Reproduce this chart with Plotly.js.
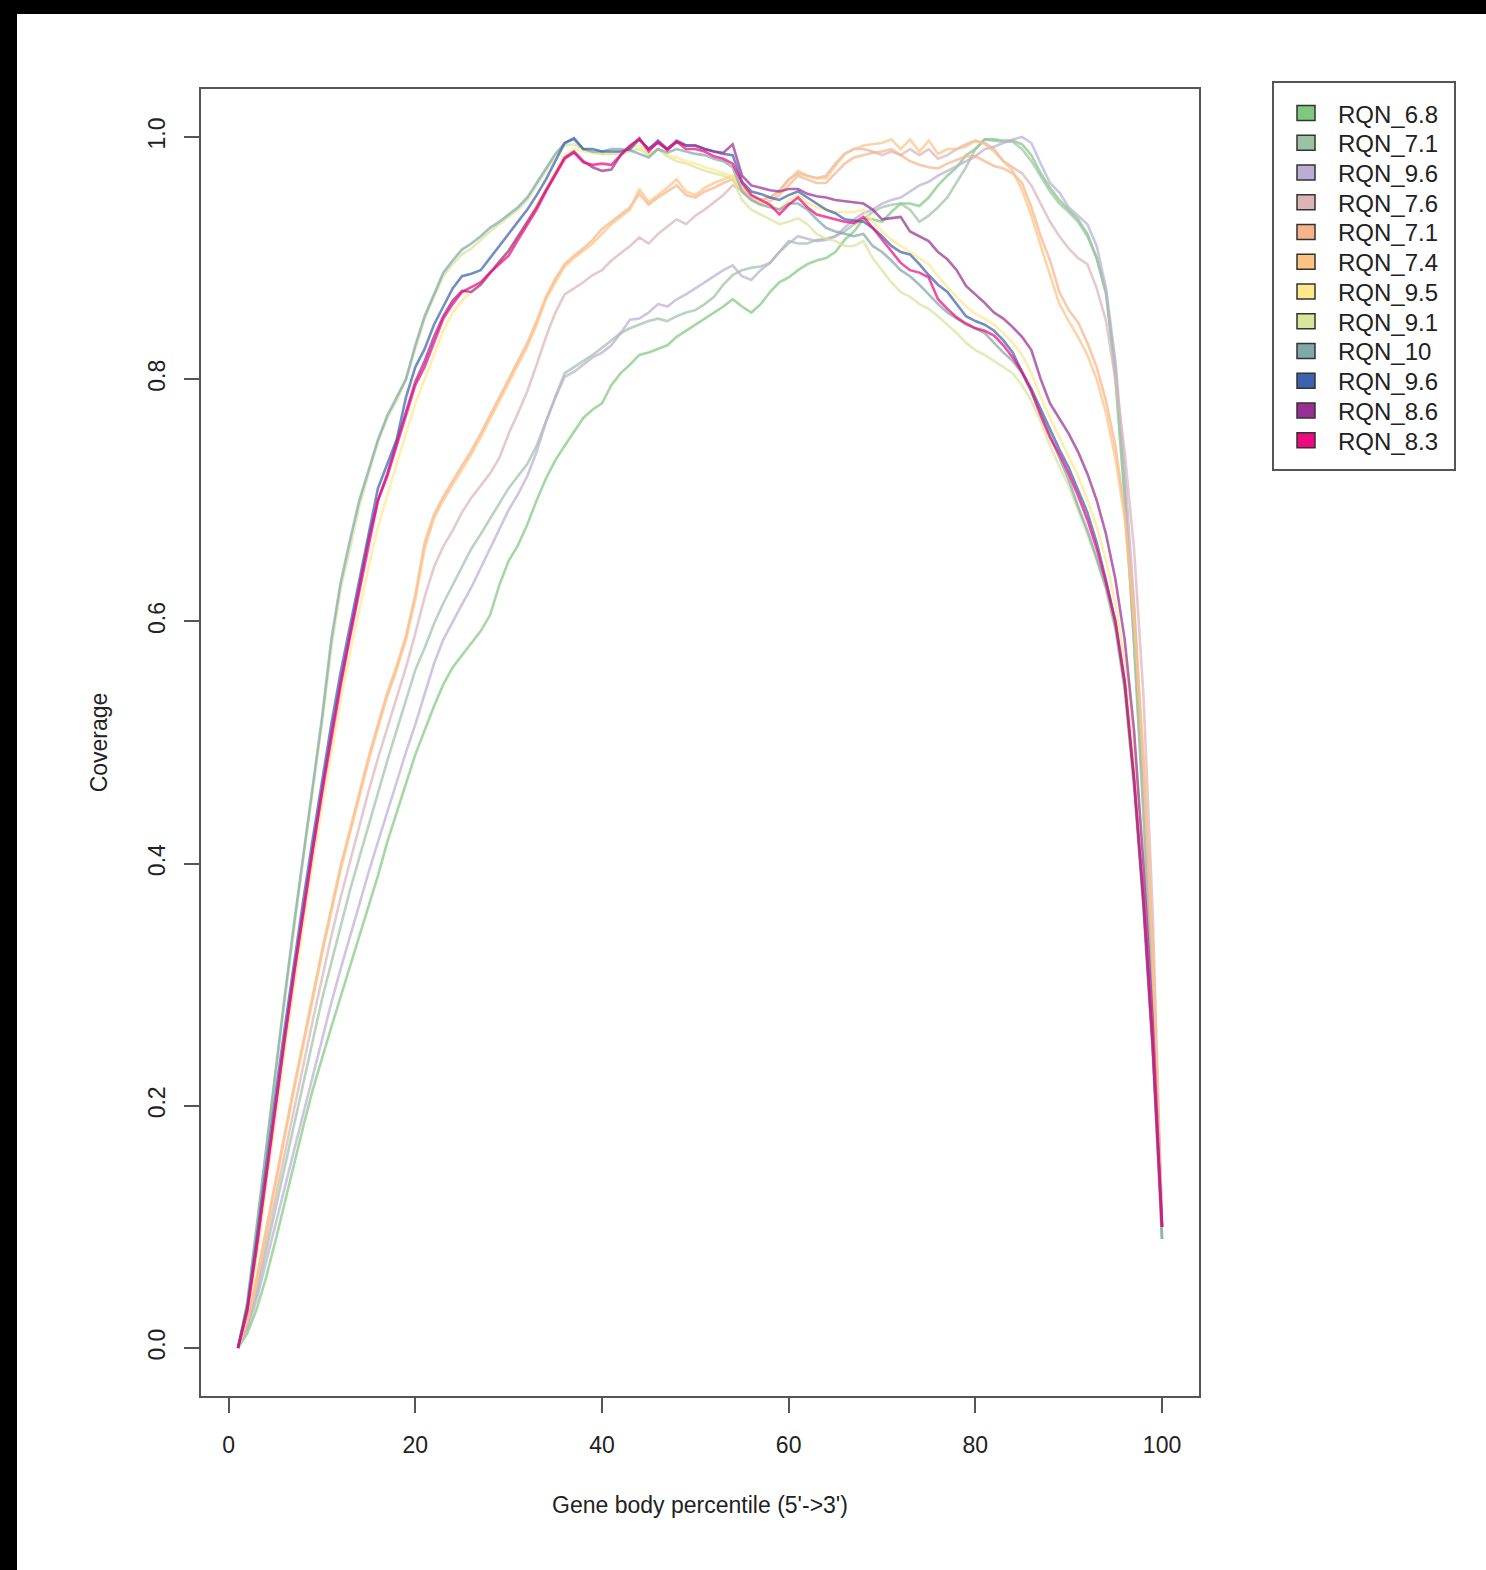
<!DOCTYPE html>
<html>
<head>
<meta charset="utf-8">
<script src="https://cdn.plot.ly/plotly-3.0.1.min.js"></script>
<style>
  html, body { margin: 0; padding: 0; background: #000; }
  #wrap { position: absolute; left: 0; top: 0; width: 1486px; height: 1570px; background: #000; }
  #chart { position: absolute; left: 17px; top: 14px; width: 1469px; height: 1556px; background: #fff; }
</style>
</head>
<body>
<div id="wrap"><div id="chart"></div></div>
<script>
// ---- data ----
const percentile = [1,2,3,4,5,6,7,8,9,10,11,12,13,14,15,16,17,18,19,20,21,22,23,24,25,26,27,28,29,30,31,32,33,34,35,36,37,38,39,40,41,42,43,44,45,46,47,48,49,50,51,52,53,54,55,56,57,58,59,60,61,62,63,64,65,66,67,68,69,70,71,72,73,74,75,76,77,78,79,80,81,82,83,84,85,86,87,88,89,90,91,92,93,94,95,96,97,98,99,100];

const sampleNames = ["RQN_6.8","RQN_7.1","RQN_9.6","RQN_7.6","RQN_7.1","RQN_7.4","RQN_9.5","RQN_9.1","RQN_10","RQN_9.6","RQN_8.6","RQN_8.3"];
const sampleColors = ["#7fc97f","#9cc2a5","#bcadd6","#dbb4b8","#f7b48a","#fcc383","#fde98c","#d8e59c","#7fa8a8","#3d62ae","#982f92","#ee0a7e"];

const rqn_6_8 = [0,0.012,0.032,0.058,0.088,0.12,0.152,0.183,0.213,0.24,
 0.265,0.29,0.315,0.34,0.365,0.39,0.418,0.442,0.465,0.49,
 0.51,0.53,0.548,0.562,0.572,0.582,0.592,0.605,0.63,0.65,
 0.663,0.68,0.70,0.718,0.733,0.745,0.756,0.768,0.775,0.78,
 0.795,0.805,0.812,0.82,0.822,0.825,0.828,0.835,0.84,0.845,
 0.85,0.855,0.86,0.866,0.86,0.855,0.862,0.872,0.88,0.884,
 0.89,0.895,0.898,0.9,0.905,0.915,0.922,0.932,0.932,0.93,
 0.938,0.945,0.945,0.943,0.95,0.96,0.968,0.975,0.985,0.99,
 0.998,0.998,0.997,0.997,0.994,0.985,0.97,0.958,0.948,0.94,
 0.932,0.92,0.9,0.872,0.80,0.70,0.585,0.45,0.29,0.09];

const rqn_7_1a = [0,0.018,0.045,0.08,0.115,0.15,0.185,0.22,0.255,0.288,
 0.318,0.348,0.378,0.405,0.432,0.46,0.485,0.51,0.535,0.56,
 0.578,0.598,0.615,0.63,0.645,0.66,0.672,0.685,0.698,0.71,
 0.72,0.73,0.745,0.765,0.785,0.805,0.81,0.815,0.82,0.826,
 0.832,0.838,0.842,0.845,0.848,0.85,0.848,0.852,0.855,0.857,
 0.862,0.868,0.878,0.886,0.89,0.892,0.893,0.896,0.905,0.914,
 0.912,0.912,0.915,0.916,0.918,0.922,0.928,0.932,0.938,0.942,
 0.944,0.945,0.94,0.93,0.935,0.942,0.95,0.962,0.975,0.99,
 0.998,0.997,0.996,0.996,0.99,0.98,0.968,0.955,0.945,0.938,
 0.93,0.918,0.9,0.87,0.81,0.71,0.58,0.44,0.28,0.09];

const rqn_9_6a = [0,0.016,0.04,0.07,0.10,0.132,0.163,0.194,0.225,0.255,
 0.285,0.313,0.34,0.367,0.393,0.418,0.443,0.468,0.492,0.515,
 0.54,0.565,0.585,0.60,0.614,0.628,0.644,0.66,0.676,0.692,
 0.705,0.72,0.74,0.765,0.785,0.802,0.806,0.812,0.818,0.822,
 0.828,0.838,0.849,0.85,0.855,0.862,0.86,0.866,0.87,0.875,
 0.88,0.885,0.89,0.894,0.885,0.882,0.89,0.896,0.905,0.912,
 0.918,0.916,0.914,0.915,0.918,0.925,0.932,0.937,0.94,0.945,
 0.948,0.95,0.955,0.96,0.963,0.968,0.972,0.976,0.98,0.984,
 0.99,0.992,0.995,0.998,1.0,0.995,0.978,0.962,0.954,0.942,
 0.935,0.928,0.91,0.875,0.815,0.725,0.615,0.47,0.30,0.11];

const rqn_7_6 = [0,0.02,0.05,0.087,0.125,0.162,0.198,0.234,0.27,0.305,
 0.34,0.372,0.402,0.432,0.46,0.487,0.512,0.538,0.562,0.59,
 0.62,0.645,0.662,0.675,0.69,0.702,0.712,0.722,0.735,0.755,
 0.772,0.79,0.812,0.835,0.855,0.87,0.875,0.88,0.886,0.89,
 0.898,0.904,0.91,0.917,0.912,0.92,0.926,0.932,0.928,0.935,
 0.94,0.946,0.952,0.96,0.956,0.95,0.948,0.95,0.956,0.965,
 0.97,0.968,0.966,0.968,0.978,0.986,0.99,0.99,0.988,0.985,
 0.988,0.985,0.99,0.985,0.99,0.982,0.985,0.99,0.994,0.997,
 0.995,0.99,0.98,0.975,0.97,0.96,0.945,0.93,0.918,0.908,
 0.9,0.895,0.875,0.848,0.80,0.74,0.66,0.54,0.36,0.10];

const rqn_7_1b = [0,0.023,0.058,0.098,0.138,0.178,0.216,0.253,0.291,0.328,
 0.363,0.398,0.428,0.458,0.488,0.515,0.541,0.563,0.588,0.622,
 0.665,0.688,0.703,0.716,0.728,0.741,0.755,0.77,0.785,0.80,
 0.815,0.83,0.848,0.868,0.883,0.895,0.902,0.908,0.915,0.924,
 0.93,0.936,0.942,0.953,0.944,0.95,0.955,0.96,0.952,0.95,
 0.955,0.958,0.962,0.965,0.955,0.948,0.945,0.947,0.952,0.96,
 0.968,0.965,0.962,0.962,0.97,0.978,0.983,0.985,0.987,0.988,
 0.99,0.985,0.98,0.977,0.975,0.974,0.978,0.981,0.984,0.984,
 0.98,0.976,0.974,0.97,0.962,0.942,0.918,0.898,0.872,0.857,
 0.847,0.83,0.81,0.782,0.745,0.69,0.61,0.49,0.33,0.10];

const rqn_7_4 = [0,0.022,0.055,0.095,0.135,0.175,0.213,0.25,0.288,0.325,
 0.36,0.395,0.425,0.455,0.485,0.512,0.538,0.56,0.585,0.618,
 0.66,0.685,0.70,0.713,0.725,0.738,0.752,0.767,0.782,0.797,
 0.812,0.827,0.845,0.866,0.88,0.893,0.90,0.906,0.912,0.92,
 0.928,0.934,0.94,0.957,0.946,0.952,0.958,0.965,0.955,0.952,
 0.958,0.962,0.965,0.968,0.958,0.952,0.948,0.95,0.955,0.964,
 0.972,0.968,0.966,0.966,0.976,0.986,0.99,0.993,0.994,0.995,
 0.998,0.99,0.998,0.988,0.997,0.986,0.99,0.99,0.992,0.997,
 0.994,0.988,0.98,0.972,0.956,0.935,0.91,0.885,0.862,0.848,
 0.835,0.82,0.80,0.772,0.735,0.685,0.60,0.48,0.32,0.10];

const rqn_9_5 = [0,0.027,0.075,0.132,0.19,0.245,0.298,0.35,0.40,0.447,
 0.492,0.535,0.574,0.61,0.645,0.678,0.705,0.73,0.755,0.78,
 0.80,0.82,0.84,0.855,0.865,0.872,0.88,0.888,0.897,0.906,
 0.918,0.93,0.944,0.958,0.972,0.985,0.99,0.988,0.987,0.986,
 0.986,0.988,0.99,0.993,0.986,0.99,0.985,0.983,0.98,0.978,
 0.975,0.973,0.97,0.968,0.955,0.948,0.946,0.944,0.94,0.948,
 0.952,0.946,0.942,0.94,0.938,0.938,0.938,0.94,0.93,0.922,
 0.915,0.91,0.905,0.90,0.895,0.885,0.876,0.868,0.86,0.854,
 0.85,0.845,0.838,0.83,0.82,0.805,0.785,0.768,0.752,0.737,
 0.72,0.70,0.678,0.65,0.615,0.565,0.49,0.385,0.26,0.10];

const rqn_9_1 = [0,0.036,0.097,0.162,0.225,0.286,0.346,0.404,0.46,0.515,
 0.578,0.627,0.66,0.695,0.722,0.748,0.768,0.782,0.80,0.826,
 0.85,0.868,0.885,0.895,0.903,0.908,0.915,0.922,0.928,0.934,
 0.94,0.948,0.96,0.972,0.984,0.993,0.994,0.99,0.987,0.986,
 0.986,0.986,0.988,0.99,0.985,0.99,0.984,0.98,0.978,0.975,
 0.972,0.97,0.968,0.965,0.948,0.94,0.936,0.932,0.928,0.93,
 0.933,0.928,0.92,0.916,0.914,0.91,0.91,0.914,0.90,0.89,
 0.88,0.872,0.868,0.862,0.858,0.852,0.845,0.838,0.83,0.824,
 0.82,0.815,0.81,0.805,0.795,0.782,0.765,0.745,0.728,0.712,
 0.692,0.672,0.65,0.626,0.593,0.543,0.463,0.363,0.243,0.09];

const rqn_10 = [0,0.038,0.10,0.165,0.228,0.29,0.35,0.408,0.465,0.52,
 0.585,0.632,0.667,0.70,0.725,0.75,0.77,0.785,0.80,0.828,
 0.852,0.87,0.888,0.898,0.907,0.912,0.918,0.925,0.93,0.936,
 0.942,0.95,0.962,0.975,0.986,0.995,0.998,0.99,0.988,0.988,
 0.99,0.99,0.989,0.986,0.983,0.99,0.987,0.99,0.988,0.986,
 0.985,0.982,0.98,0.975,0.955,0.948,0.944,0.942,0.94,0.945,
 0.945,0.94,0.932,0.925,0.922,0.92,0.918,0.92,0.91,0.905,
 0.898,0.89,0.885,0.878,0.87,0.862,0.855,0.85,0.845,0.842,
 0.838,0.83,0.822,0.815,0.805,0.79,0.772,0.753,0.735,0.717,
 0.695,0.675,0.652,0.628,0.595,0.545,0.465,0.365,0.245,0.09];

const rqn_9_6b = [0,0.034,0.09,0.15,0.208,0.264,0.318,0.37,0.42,0.468,
 0.515,0.558,0.597,0.636,0.672,0.71,0.73,0.75,0.785,0.81,
 0.825,0.845,0.86,0.875,0.885,0.887,0.89,0.90,0.91,0.92,
 0.93,0.94,0.952,0.965,0.98,0.995,0.999,0.99,0.99,0.988,
 0.988,0.988,0.99,0.998,0.99,0.997,0.99,0.997,0.993,0.993,
 0.99,0.988,0.986,0.985,0.963,0.955,0.953,0.95,0.948,0.952,
 0.955,0.95,0.945,0.94,0.937,0.932,0.931,0.93,0.925,0.918,
 0.91,0.905,0.903,0.895,0.886,0.878,0.872,0.862,0.852,0.848,
 0.845,0.84,0.832,0.822,0.806,0.792,0.775,0.758,0.742,0.727,
 0.708,0.69,0.665,0.634,0.60,0.55,0.47,0.37,0.25,0.10];

const rqn_8_6 = [0,0.032,0.085,0.143,0.20,0.256,0.31,0.362,0.412,0.46,
 0.507,0.55,0.59,0.63,0.668,0.70,0.722,0.748,0.773,0.798,
 0.815,0.835,0.852,0.865,0.873,0.872,0.878,0.888,0.897,0.906,
 0.918,0.93,0.942,0.956,0.969,0.983,0.988,0.98,0.975,0.972,
 0.973,0.985,0.993,0.998,0.99,0.995,0.99,0.996,0.993,0.993,
 0.99,0.988,0.987,0.994,0.968,0.96,0.958,0.956,0.955,0.957,
 0.957,0.953,0.951,0.95,0.948,0.947,0.946,0.945,0.94,0.932,
 0.933,0.934,0.922,0.918,0.914,0.905,0.899,0.89,0.877,0.87,
 0.863,0.855,0.85,0.843,0.835,0.824,0.80,0.78,0.768,0.755,
 0.74,0.722,0.70,0.672,0.635,0.585,0.51,0.40,0.27,0.10];

const rqn_8_3 = [0,0.03,0.082,0.14,0.198,0.254,0.308,0.36,0.41,0.458,
 0.503,0.547,0.587,0.625,0.665,0.70,0.72,0.745,0.77,0.795,
 0.81,0.83,0.85,0.862,0.872,0.876,0.88,0.888,0.895,0.902,
 0.915,0.928,0.94,0.955,0.968,0.982,0.987,0.979,0.977,0.978,
 0.977,0.985,0.992,0.999,0.988,0.996,0.989,0.996,0.99,0.99,
 0.988,0.984,0.982,0.978,0.962,0.952,0.948,0.944,0.936,0.944,
 0.95,0.942,0.936,0.934,0.932,0.93,0.929,0.934,0.925,0.915,
 0.905,0.896,0.89,0.888,0.884,0.866,0.858,0.851,0.846,0.842,
 0.84,0.836,0.828,0.818,0.806,0.79,0.77,0.752,0.738,0.722,
 0.704,0.684,0.66,0.632,0.60,0.55,0.47,0.37,0.25,0.10];

const xTicks = [0,20,40,60,80,100];
const yTicks = [0.0,0.2,0.4,0.6,0.8,1.0];
const xTitle = "Gene body percentile (5'->3')";
const yTitle = "Coverage";

const seriesValues = [rqn_6_8, rqn_7_1a, rqn_9_6a, rqn_7_6, rqn_7_1b, rqn_7_4, rqn_9_5, rqn_9_1, rqn_10, rqn_9_6b, rqn_8_6, rqn_8_3];

// ---- layout geometry (page px) ----
const OFF_X = 17, OFF_Y = 14;
const PL = 201, PR = 1199, PT = 89, PB = 1396;
const W = 1469, H = 1556;
const pw = PR - PL, ph = PB - PT;
function px2paperX(p) { return (p - PL) / pw; }
function px2paperY(p) { return (PB - p) / ph; }

function hexToRgba(h, a) {
  const r = parseInt(h.slice(1,3),16), g = parseInt(h.slice(3,5),16), b = parseInt(h.slice(5,7),16);
  return `rgba(${r},${g},${b},${a})`;
}

const traces = seriesValues.map((vals, i) => ({
  type: 'scatter', mode: 'lines',
  x: percentile, y: vals,
  name: sampleNames[i],
  line: { color: hexToRgba(sampleColors[i], 0.72), width: 2.6 },
  showlegend: false,
  hoverinfo: 'x+y+name'
}));

// manual legend (R-style boxed legend with filled squares)
const shapes = [];
const annotations = [];
const LBX0 = 1273, LBX1 = 1455, LBY0 = 82, LBY1 = 470;
shapes.push({ type: 'rect', xref: 'paper', yref: 'paper',
  x0: px2paperX(LBX0), x1: px2paperX(LBX1), y0: px2paperY(LBY1), y1: px2paperY(LBY0),
  line: { color: '#555', width: 2 }, fillcolor: 'rgba(0,0,0,0)' });
sampleNames.forEach((nm, i) => {
  const cy = 113 + i * 29.75;
  shapes.push({ type: 'rect', xref: 'paper', yref: 'paper',
    x0: px2paperX(1297), x1: px2paperX(1315), y0: px2paperY(cy + 7.5), y1: px2paperY(cy - 7.5),
    line: { color: '#333', width: 1.5 }, fillcolor: sampleColors[i] });
  annotations.push({ xref: 'paper', yref: 'paper', x: px2paperX(1336), y: px2paperY(cy + 1),
    xanchor: 'left', yanchor: 'middle', text: nm, showarrow: false,
    font: { family: 'Liberation Sans, Arial, Helvetica, sans-serif', size: 24, color: '#222' } });
});

const axisFont = { family: 'Liberation Sans, Arial, Helvetica, sans-serif', size: 23, color: '#222' };

const layout = {
  width: W, height: H,
  margin: { l: PL - OFF_X, r: W - (PR - OFF_X), t: PT - OFF_Y, b: H - (PB - OFF_Y), pad: 0 },
  paper_bgcolor: '#fff', plot_bgcolor: '#fff',
  showlegend: false,
  xaxis: {
    range: [-2.96, 103.96], tickvals: xTicks, ticktext: xTicks.map(String),
    showgrid: false, zeroline: false,
    showline: true, linecolor: '#555', linewidth: 2, mirror: true,
    ticks: 'outside', ticklen: 15, tickwidth: 2, tickcolor: '#555',
    ticklabelstandoff: 12,
    tickfont: axisFont,
    title: { text: xTitle, font: axisFont, standoff: 40 }
  },
  yaxis: {
    range: [-0.0396, 1.0396], tickvals: yTicks, ticktext: yTicks.map(v => v.toFixed(1)),
    tickangle: -90,
    showgrid: false, zeroline: false,
    showline: true, linecolor: '#555', linewidth: 2, mirror: true,
    ticks: 'outside', ticklen: 15, tickwidth: 2, tickcolor: '#555',
    ticklabelstandoff: 10,
    tickfont: axisFont,
    title: { text: yTitle, font: axisFont, standoff: 30 }
  },
  shapes: shapes,
  annotations: annotations
};

Plotly.newPlot('chart', traces, layout, { displayModeBar: false, staticPlot: false });
</script>
</body>
</html>
